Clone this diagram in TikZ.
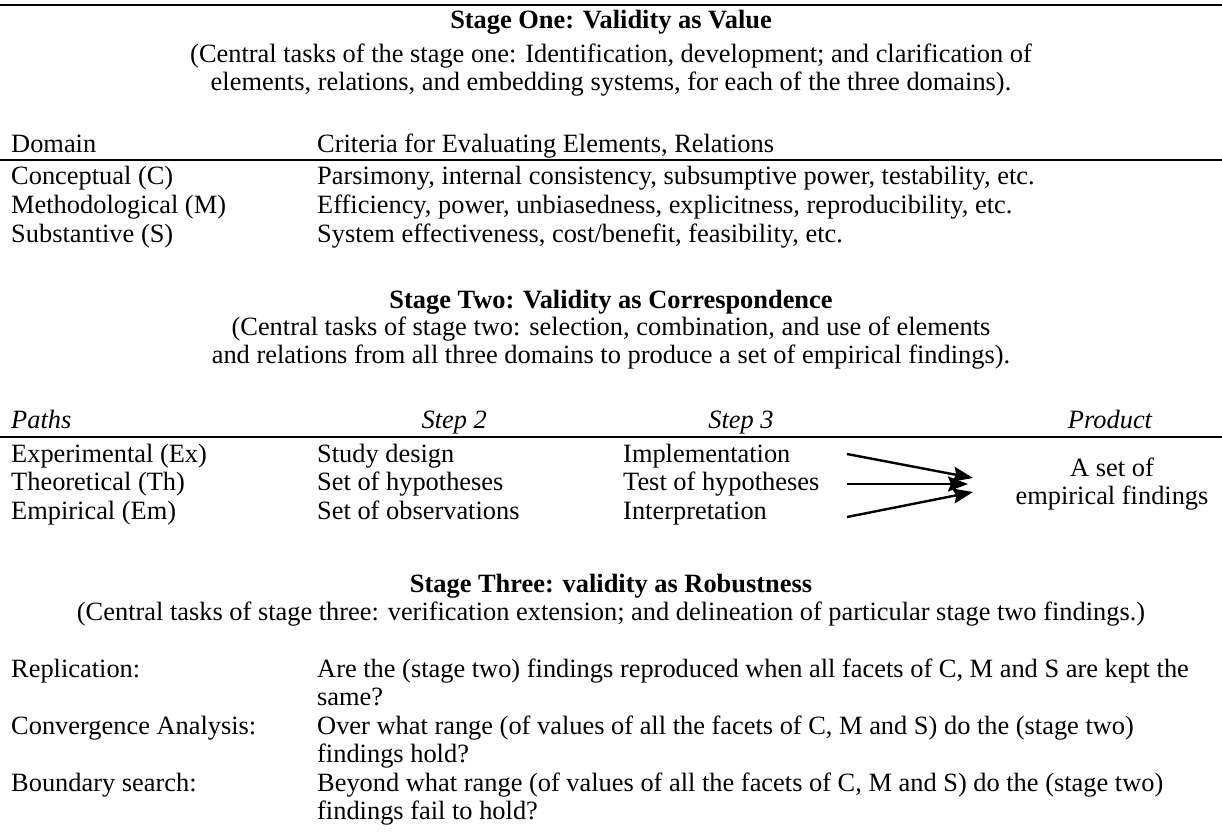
\documentclass[tikz,border=0pt]{standalone}
\usepackage{fontspec}
\setmainfont{Liberation Serif}
\usetikzlibrary{arrows.meta}
\begin{document}
\begin{tikzpicture}[x=1pt,y=-1pt,
  txt/.style={inner sep=0pt, anchor=base west, font=\fontsize{26.4}{28.5}\selectfont},
  ctr/.style={inner sep=0pt, anchor=base, font=\fontsize{26.4}{28.5}\selectfont},
  ttl/.style={inner sep=0pt, anchor=base, font=\fontsize{26.4}{28.5}\selectfont\bfseries},
  hd/.style={inner sep=0pt, anchor=base west, font=\fontsize{26.4}{28.5}\selectfont\itshape},
  hdc/.style={inner sep=0pt, anchor=base, font=\fontsize{26.4}{28.5}\selectfont\itshape},
  hde/.style={inner sep=0pt, anchor=base east, font=\fontsize{26.4}{28.5}\selectfont\itshape},
  rule/.style={line width=2pt},
  arr/.style={line width=2.4pt, -{Stealth[length=20pt,width=15pt,inset=3pt]}}]
\useasboundingbox (0,0) rectangle (1222,834);
% top rule
\draw[rule] (0,5) -- (1222,5);
% Stage one
\node[ttl] (t1) at (611,29) {Stage One: Validity as Value};
\node[ctr] (s1a) at (611,63) {(Central tasks of the stage one: Identification, development; and clarification of};
\node[ctr] (s1b) at (611,91) {elements, relations, and embedding systems, for each of the three domains).};
\node[txt] (dom) at (11,153) {Domain};
\node[txt] (crit) at (317,153) {Criteria for Evaluating Elements, Relations};
\draw[rule] (0,160) -- (1222,160);
\node[txt] (c1) at (11,185) {Conceptual (C)};
\node[txt] (c2) at (317,185) {Parsimony, internal consistency, subsumptive power, testability, etc.};
\node[txt] (m1) at (11,214) {Methodological (M)};
\node[txt] (m2) at (317,214) {Efficiency, power, unbiasedness, explicitness, reproducibility, etc.};
\node[txt] (sb1) at (11,243) {Substantive (S)};
\node[txt] (sb2) at (317,243) {System effectiveness, cost/benefit, feasibility, etc.};
% Stage two
\node[ttl] (t2) at (611,308) {Stage Two: Validity as Correspondence};
\node[ctr] (s2a) at (611,335) {(Central tasks of stage two: selection, combination, and use of elements};
\node[ctr] (s2b) at (611,363) {and relations from all three domains to produce a set of empirical findings).};
\node[hd] (paths) at (11,428) {Paths};
\node[hde] (step2) at (487,428) {Step 2};
\node[hdc] (step3) at (741,428) {Step 3};
\node[hdc] (prod) at (1110,428) {Product};
\draw[rule] (0,437) -- (1222,437);
\node[txt] (ex) at (11,462) {Experimental (Ex)};
\node[txt] (sd) at (317,462) {Study design};
\node[txt] (impl) at (623,462) {Implementation};
\node[txt] (th) at (11,490) {Theoretical (Th)};
\node[txt] (soh) at (317,490) {Set of hypotheses};
\node[txt] (toh) at (623,490) {Test of hypotheses};
\node[txt] (em) at (11,519) {Empirical (Em)};
\node[txt] (soo) at (317,519) {Set of observations};
\node[txt] (interp) at (623,519) {Interpretation};
\node[ctr] (p1) at (1112,476) {A set of};
\node[ctr] (p2) at (1112,504) {empirical findings};
\coordinate (a1s) at (847,454);
\coordinate (a1e) at (973,478);
\coordinate (a2s) at (847,484);
\coordinate (a2e) at (968,484);
\coordinate (a3s) at (847,517);
\coordinate (a3e) at (973,492);
\draw[arr] (a1s) -- (a1e);
\draw[arr] (a2s) -- (a2e);
\draw[arr] (a3s) -- (a3e);
% Stage three
\node[ttl] (t3) at (611,592) {Stage Three: validity as Robustness};
\node[ctr] (s3a) at (611,620) {(Central tasks of stage three: verification extension; and delineation of particular stage two findings.)};
\node[txt] (rep) at (11,677) {Replication:};
\node[txt] (repa) at (317,677) {Are the (stage two) findings reproduced when all facets of C, M and S are kept the};
\node[txt] (repb) at (317,705.5) {same?};
\node[txt] (con) at (11,734) {Convergence Analysis:};
\node[txt] (cona) at (317,734) {Over what range (of values of all the facets of C, M and S) do the (stage two)};
\node[txt] (conb) at (317,762.5) {findings hold?};
\node[txt] (bnd) at (11,791) {Boundary search:};
\node[txt] (bnda) at (317,791) {Beyond what range (of values of all the facets of C, M and S) do the (stage two)};
\node[txt] (bndb) at (317,819.5) {findings fail to hold?};
\end{tikzpicture}
\end{document}
